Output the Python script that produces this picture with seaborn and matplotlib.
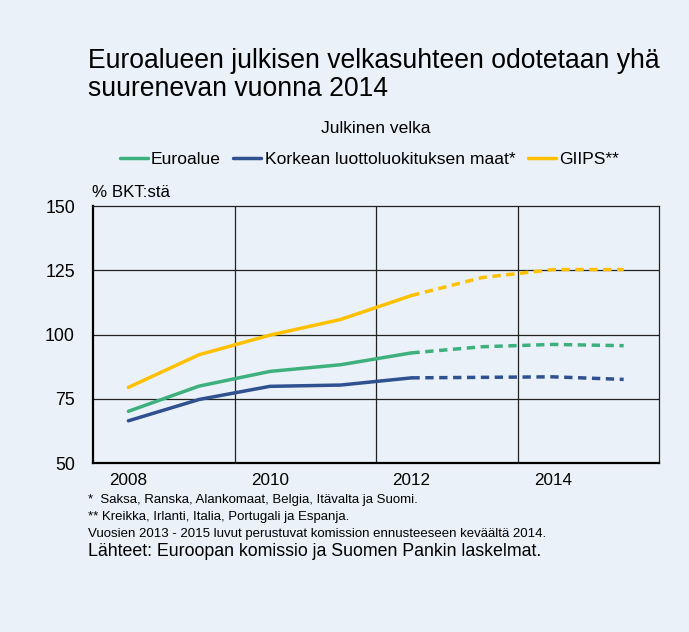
import numpy as np
import pandas as pd
import matplotlib
matplotlib.use("Agg")
import matplotlib.pyplot as plt
from matplotlib.lines import Line2D
import seaborn as sns

BG = "#EAF1F8"
GREEN = "#3DB07E"
NAVY = "#2F5190"
YELLOW = "#FFC000"

years = [2008, 2009, 2010, 2011, 2012, 2013, 2014, 2015]
euroalue = [70.2, 80.0, 85.7, 88.3, 92.9, 95.3, 96.2, 95.7]
korkea = [66.5, 74.8, 79.9, 80.4, 83.2, 83.4, 83.6, 82.6]
giips = [79.5, 92.2, 99.8, 105.9, 115.2, 122.2, 125.3, 125.3]
last_actual = 2012

series = {
    "Euroalue": (euroalue, GREEN),
    "Korkean luottoluokituksen maat*": (korkea, NAVY),
    "GIIPS**": (giips, YELLOW),
}

sns.set_theme(style="white")
plt.rcParams["font.family"] = ["Liberation Sans", "DejaVu Sans"]
plt.rcParams["text.color"] = "black"
plt.rcParams["xtick.color"] = "black"
plt.rcParams["ytick.color"] = "black"

fig = plt.figure(figsize=(6.89, 6.32), dpi=100)
fig.patch.set_facecolor(BG)
ax = fig.add_axes([0.135, 0.267, 0.8215, 0.407])
ax.set_facecolor(BG)

handles = []
for name, (vals, col) in series.items():
    df = pd.DataFrame({"vuosi": years, "arvo": vals})
    hist = df[df["vuosi"] <= last_actual]
    fc = df[df["vuosi"] >= last_actual]
    sns.lineplot(data=hist, x="vuosi", y="arvo", color=col, lw=2.5, ax=ax)
    sns.lineplot(data=fc, x="vuosi", y="arvo", color=col, lw=2.5, ax=ax,
                 linestyle=(0, (2.4, 1.6)))
    handles.append(Line2D([0], [0], color=col, lw=2.5, label=name))

ax.set_xlim(2007.5, 2015.5)
ax.set_ylim(50, 150)
ax.set_yticks([50, 75, 100, 125, 150])
ax.set_xticks([2008, 2010, 2012, 2014])
ax.set_xticks([2008.5, 2010.5, 2012.5, 2014.5], minor=True)
ax.tick_params(axis="x", which="major", length=0, labelsize=12.3, pad=7)
ax.tick_params(axis="x", which="minor", direction="in", length=5, width=1, color="black")
ax.tick_params(axis="y", length=0, labelsize=12.8, pad=13)
ax.set_xlabel(""); ax.set_ylabel("")
ax.grid(False)
for y in [75, 100, 125]:
    ax.axhline(y, color="#222222", lw=0.9, zorder=0)
for x in [2009.5, 2011.5, 2013.5]:
    ax.axvline(x, color="#222222", lw=0.9, zorder=0)
for s in ax.spines.values():
    s.set_color("#222222"); s.set_linewidth(0.9)
ax.spines["left"].set_linewidth(1.6); ax.spines["left"].set_color("black")
ax.spines["bottom"].set_linewidth(1.6); ax.spines["bottom"].set_color("black")

fig.text(0.128, 0.924, "Euroalueen julkisen velkasuhteen odotetaan yhä\nsuurenevan vuonna 2014",
         fontsize=19.1, va="top", ha="left", linespacing=1.1)
fig.text(0.545, 0.797, "Julkinen velka", fontsize=12.6, ha="center", va="center")
fig.legend(handles=handles, loc="center", bbox_to_anchor=(0.536, 0.748), ncol=3,
           frameon=False, fontsize=12.6, handlelength=1.6, handletextpad=0.2,
           columnspacing=0.7)
fig.text(0.134, 0.695, "% BKT:stä", fontsize=12.2, ha="left", va="center")

fig.text(0.128, 0.209, "*  Saksa, Ranska, Alankomaat, Belgia, Itävalta ja Suomi.", fontsize=9.5, va="center")
fig.text(0.128, 0.182, "** Kreikka, Irlanti, Italia, Portugali ja Espanja.", fontsize=9.5, va="center")
fig.text(0.128, 0.155, "Vuosien 2013 - 2015 luvut perustuvat komission ennusteeseen keväältä 2014.", fontsize=9.5, va="center")
fig.text(0.128, 0.127, "Lähteet: Euroopan komissio ja Suomen Pankin laskelmat.", fontsize=12.8, va="center")

fig.savefig("out.png", dpi=100, facecolor=BG)
